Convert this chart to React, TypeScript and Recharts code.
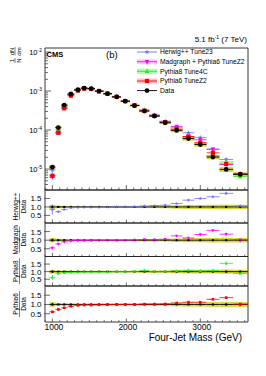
import React from 'react';
import { ComposedChart, Scatter, XAxis, YAxis, ErrorBar, ReferenceArea } from 'recharts';

// ---------- data ----------
const massCenters = [1000, 1080, 1160, 1250, 1345, 1430, 1525, 1630, 1745, 1870, 1985, 2110, 2245, 2380, 2525, 2680, 2840, 3000, 3170, 3350, 3540];
const massEdges = [960, 1040, 1120, 1205, 1295, 1385, 1475, 1575, 1690, 1805, 1925, 2050, 2175, 2310, 2450, 2600, 2760, 2920, 3085, 3260, 3445, 3640];

const dataValues = [1.12e-5, 1.16e-4, 4.37e-4, 8.4e-4, 1.08e-3, 1.19e-3, 1.16e-3, 1.0e-3, 8.6e-4, 7.1e-4, 5.5e-4, 4.25e-4, 3.07e-4, 2.28e-4, 1.54e-4, 9.8e-5, 6.05e-5, 4.25e-5, 2.03e-5, 9.8e-6, 7.3e-6];
const dataStatRel = [0.08, 0.03, 0.01, 0.01, 0.01, 0.01, 0.01, 0.01, 0.01, 0.01, 0.01, 0.01, 0.01, 0.01, 0.02, 0.02, 0.03, 0.03, 0.04, 0.06, 0.07];
const dataSysRel = [0.12, 0.08, 0.07, 0.06, 0.06, 0.06, 0.06, 0.06, 0.06, 0.06, 0.06, 0.06, 0.07, 0.07, 0.08, 0.1, 0.12, 0.12, 0.13, 0.14, 0.13];

const herwigValues = [9.5e-6, 8.4e-5, 3.7e-4, 8.0e-4, 1.05e-3, 1.17e-3, 1.14e-3, 9.8e-4, 8.5e-4, 7.1e-4, 5.5e-4, 4.3e-4, 3.2e-4, 2.46e-4, 1.69e-4, 1.18e-4, 8.5e-5, 6.4e-5, 3.25e-5, 1.76e-5, 7.7e-6];
const madgraphValues = [6.2e-6, 9.0e-5, 3.9e-4, 8.1e-4, 1.06e-3, 1.17e-3, 1.15e-3, 1.0e-3, 8.6e-4, 7.1e-4, 5.5e-4, 4.3e-4, 3.2e-4, 2.35e-4, 1.62e-4, 1.23e-4, 6.8e-5, 5.65e-5, 3.2e-5, 1.32e-5, 7.5e-6];
const pythia8Values = [6.9e-6, 1.02e-4, 4.0e-4, 8.0e-4, 1.04e-3, 1.15e-3, 1.14e-3, 9.7e-4, 8.4e-4, 7.1e-4, 5.5e-4, 4.3e-4, 3.3e-4, 2.28e-4, 1.57e-4, 1.03e-4, 6.5e-5, 4.45e-5, 2.2e-5, 1.52e-5, 6.4e-6];
const pythia6Values = [6.7e-6, 8.5e-5, 3.6e-4, 7.6e-4, 1.03e-3, 1.15e-3, 1.13e-3, 9.8e-4, 8.5e-4, 7.1e-4, 5.5e-4, 4.25e-4, 3.1e-4, 2.33e-4, 1.59e-4, 1.06e-4, 6.8e-5, 4.75e-5, 2.6e-5, 1.34e-5, 7.4e-6];

const herwigRatio = [0.85, 0.72, 0.85, 0.95, 0.97, 0.98, 0.98, 0.98, 0.99, 1.0, 1.0, 1.02, 1.05, 1.08, 1.1, 1.2, 1.4, 1.5, 1.6, 1.8, 1.05];
const madgraphRatio = [0.55, 0.78, 0.9, 0.96, 0.98, 0.98, 0.99, 1.0, 1.0, 1.0, 1.0, 1.02, 1.04, 1.03, 1.05, 1.25, 1.13, 1.33, 1.57, 1.35, 1.03];
const pythia8Ratio = [0.62, 0.88, 0.92, 0.95, 0.96, 0.97, 0.98, 0.97, 0.98, 1.0, 1.0, 1.02, 1.08, 1.0, 1.02, 1.05, 1.08, 1.05, 1.08, 1.55, 0.87];
const pythia6Ratio = [0.6, 0.73, 0.82, 0.9, 0.95, 0.97, 0.97, 0.98, 0.99, 1.0, 1.0, 1.0, 1.02, 1.02, 1.03, 1.08, 1.12, 1.12, 1.28, 1.37, 1.02];

const herwigErr = [0.3, 0.06, 0.03, 0.02, 0.02, 0.02, 0.02, 0.02, 0.02, 0.02, 0.02, 0.02, 0.03, 0.03, 0.03, 0.04, 0.05, 0.06, 0.07, 0.09, 0.08];
const madgraphErr = [0.08, 0.05, 0.03, 0.02, 0.02, 0.02, 0.02, 0.02, 0.02, 0.02, 0.02, 0.02, 0.03, 0.03, 0.03, 0.04, 0.04, 0.05, 0.07, 0.09, 0.06];
const pythia8Err = [0.15, 0.04, 0.02, 0.02, 0.02, 0.02, 0.02, 0.02, 0.02, 0.02, 0.02, 0.02, 0.03, 0.03, 0.03, 0.03, 0.04, 0.05, 0.05, 0.1, 0.06];
const pythia6Err = [0.06, 0.04, 0.02, 0.02, 0.02, 0.02, 0.02, 0.02, 0.02, 0.02, 0.02, 0.02, 0.03, 0.03, 0.03, 0.03, 0.04, 0.04, 0.05, 0.05, 0.03];

const xMajorTicks = [1000, 2000, 3000];
const xMinorTicks = [900, 1100, 1200, 1300, 1400, 1500, 1600, 1700, 1800, 1900, 2100, 2200, 2300, 2400, 2500, 2600, 2700, 2800, 2900, 3100, 3200, 3300, 3400, 3500, 3600];
const yMainMajor = [1e-5, 1e-4, 1e-3, 1e-2];
const yMainMinor = [3e-6, 4e-6, 5e-6, 6e-6, 7e-6, 8e-6, 9e-6, 2e-5, 3e-5, 4e-5, 5e-5, 6e-5, 7e-5, 8e-5, 9e-5, 2e-4, 3e-4, 4e-4, 5e-4, 6e-4, 7e-4, 8e-4, 9e-4, 2e-3, 3e-3, 4e-3, 5e-3, 6e-3, 7e-3, 8e-3, 9e-3];
const yMainLabels = ['-5', '-4', '-3', '-2'];
const yRatioTicks = [0.5, 1.0, 1.5];
const yRatioLabels = ['0.5', '1.0', '1.5'];

const legendNames = ['Herwig++ Tune23', 'Madgraph + Pythia6 TuneZ2', 'Pythia8 Tune4C', 'Pythia6 TuneZ2', 'Data'];
const ratioNames = ['Herwig++', 'Madgraph', 'Pythia8', 'Pythia6'];

// ---------- layout / style ----------
const W = 266;
const H = 376;
const PLOT_LEFT = 45;
const PLOT_RIGHT = 248;
const MAIN = { top: 48, bottom: 190 };
const RATIO_PANELS = [
  { top: 190, bottom: 223 },
  { top: 223, bottom: 256.5 },
  { top: 256.5, bottom: 286 },
  { top: 286, bottom: 322 },
];
const X_DOMAIN = [900, 3645];
const Y_MAIN_DOMAIN = [2.9e-6, 1.27e-2];
const Y_RATIO_DOMAIN = [0.05, 2.0];
const FONT = 'Liberation Sans, Arial, Helvetica, sans-serif';
const X_AXIS_H = 1;

const COL_HERWIG = '#6f6fff';
const COL_MADGRAPH = '#ff00ff';
const COL_PYTHIA8 = '#22ee22';
const COL_PYTHIA6 = '#ff0000';
const COL_DATA = '#000000';
const COL_BAND = '#d2d21e';
const COL_AXIS = '#444';

// ---------- markers ----------
const circleShape = (r: number, fill: string) => (p: any) =>
  p.cx == null ? <g /> : <circle cx={p.cx} cy={p.cy} r={r} fill={fill} />;
const squareShape = (s: number, fill: string) => (p: any) =>
  p.cx == null ? <g /> : <rect x={p.cx - s / 2} y={p.cy - s / 2} width={s} height={s} fill={fill} />;
const triUpShape = (s: number, fill: string) => (p: any) =>
  p.cx == null ? <g /> : (
    <polygon points={`${p.cx},${p.cy - s * 0.6} ${p.cx - s / 2},${p.cy + s * 0.4} ${p.cx + s / 2},${p.cy + s * 0.4}`} fill={fill} />
  );
const triDownShape = (s: number, fill: string) => (p: any) =>
  p.cx == null ? <g /> : (
    <polygon points={`${p.cx},${p.cy + s * 0.6} ${p.cx - s / 2},${p.cy - s * 0.4} ${p.cx + s / 2},${p.cy - s * 0.4}`} fill={fill} />
  );
const starPoints = (cx: number, cy: number, r: number) => {
  const pts: string[] = [];
  for (let k = 0; k < 10; k++) {
    const a = -Math.PI / 2 + (k * Math.PI) / 5;
    const rr = k % 2 === 0 ? r : r * 0.42;
    pts.push(`${cx + rr * Math.cos(a)},${cy + rr * Math.sin(a)}`);
  }
  return pts.join(' ');
};
const starShape = (r: number, fill: string) => (p: any) =>
  p.cx == null ? <g /> : <polygon points={starPoints(p.cx, p.cy, r)} fill={fill} />;

// ---------- builders ----------
const xErr = (i: number) => [massCenters[i] - massEdges[i], massEdges[i + 1] - massCenters[i]];

const mainPoints = (vals: number[], rel: number[]) =>
  massCenters.map((x, i) => ({ x, y: vals[i], ex: xErr(i), ey: [vals[i] * rel[i], vals[i] * rel[i]] }));
const ratioPoints = (vals: number[], err: number[]) =>
  massCenters.map((x, i) => ({ x, y: vals[i], ex: xErr(i), ey: [err[i], err[i]] }));
const dataRatioPoints = massCenters.map((x, i) => ({ x, y: 1, ex: xErr(i), ey: [dataStatRel[i], dataStatRel[i]] }));

// ---------- ticks ----------
const makeXTick = (bottom: number, showLabel: boolean, majorLen: number, minorLen: number) => (props: any) => {
  const { x, payload } = props;
  const v = payload.value;
  const isMajor = xMajorTicks.includes(v);
  const len = isMajor ? majorLen : minorLen;
  return (
    <g>
      <line x1={x} x2={x} y1={bottom} y2={bottom - len} stroke={COL_AXIS} strokeWidth={0.8} />
      {showLabel && isMajor ? (
        <text x={x + 1.5} y={bottom + 7.5} textAnchor="middle" fontSize={8.5} fontFamily={FONT} fill="#000">
          {v}
        </text>
      ) : null}
    </g>
  );
};

const MainYTick = (props: any) => {
  const { y, payload } = props;
  const v = payload.value;
  const idx = yMainMajor.indexOf(v);
  const isMajor = idx >= 0;
  return (
    <g>
      <line x1={PLOT_LEFT} x2={PLOT_LEFT + (isMajor ? 6 : 3)} y1={y} y2={y} stroke={COL_AXIS} strokeWidth={0.8} />
      {isMajor ? (
        <text x={PLOT_LEFT - 3} y={y + 3} textAnchor="end" fontSize={7.5} fontFamily={FONT} fill="#000">
          10
          <tspan dy={-3.5} fontSize={5}>
            {yMainLabels[idx]}
          </tspan>
        </text>
      ) : null}
    </g>
  );
};

const RatioYTick = (props: any) => {
  const { y, payload } = props;
  const idx = yRatioTicks.indexOf(payload.value);
  return (
    <g>
      <line x1={PLOT_LEFT - 1} x2={PLOT_LEFT + 5} y1={y} y2={y} stroke={COL_AXIS} strokeWidth={0.8} />
      <text x={PLOT_LEFT - 3.5} y={y + 3} textAnchor="end" fontSize={8} fontFamily={FONT} fill="#000">
        {yRatioLabels[idx]}
      </text>
    </g>
  );
};

// ---------- series config ----------
const mainSeries = [
  { vals: herwigValues, err: herwigErr, color: COL_HERWIG, shape: starShape(2.6, COL_HERWIG) },
  { vals: madgraphValues, err: madgraphErr, color: COL_MADGRAPH, shape: triDownShape(4.5, COL_MADGRAPH) },
  { vals: pythia8Values, err: pythia8Err, color: COL_PYTHIA8, shape: triUpShape(4.5, COL_PYTHIA8) },
  { vals: pythia6Values, err: pythia6Err, color: COL_PYTHIA6, shape: squareShape(4.2, COL_PYTHIA6) },
];
const ratioSeries = [
  { vals: herwigRatio, err: herwigErr, color: COL_HERWIG, shape: starShape(1.8, COL_HERWIG) },
  { vals: madgraphRatio, err: madgraphErr, color: COL_MADGRAPH, shape: triDownShape(3, COL_MADGRAPH) },
  { vals: pythia8Ratio, err: pythia8Err, color: COL_PYTHIA8, shape: triUpShape(3, COL_PYTHIA8) },
  { vals: pythia6Ratio, err: pythia6Err, color: COL_PYTHIA6, shape: squareShape(2.6, COL_PYTHIA6) },
];

const chartMargin = (top: number, bottom: number) => ({ top, bottom: H - bottom - X_AXIS_H, left: 0, right: W - PLOT_RIGHT });

const xAxisFor = (bottom: number, showLabel: boolean, majorLen: number, minorLen: number) => (
  <XAxis
    dataKey="x"
    type="number"
    domain={X_DOMAIN}
    allowDataOverflow
    ticks={[...xMinorTicks, ...xMajorTicks]}
    interval={0}
    height={X_AXIS_H}
    axisLine={false}
    tickLine={false}
    tick={makeXTick(bottom, showLabel, majorLen, minorLen)}
  />
);

function MainPanel() {
  const dataPts = mainPoints(dataValues, dataStatRel);
  return (
    <div style={{ position: 'absolute', left: 0, top: 0 }}>
      <ComposedChart width={W} height={H} margin={chartMargin(MAIN.top, MAIN.bottom)}>
        {xAxisFor(MAIN.bottom, false, 5, 2.5)}
        <YAxis
          type="number"
          scale="log"
          domain={Y_MAIN_DOMAIN}
          allowDataOverflow
          ticks={[...yMainMinor, ...yMainMajor]}
          interval={0}
          width={PLOT_LEFT}
          axisLine={false}
          tickLine={false}
          tick={MainYTick}
        />
        {massCenters.map((x, i) => (
          <ReferenceArea
            key={'sys' + i}
            x1={massEdges[i]}
            x2={massEdges[i + 1]}
            y1={dataValues[i] * (1 - dataSysRel[i])}
            y2={dataValues[i] * (1 + dataSysRel[i])}
            fill={COL_BAND}
            fillOpacity={0.9}
            stroke="none"
            ifOverflow="hidden"
          />
        ))}
        {mainSeries.map((s, k) => (
          <Scatter key={'m' + k} data={mainPoints(s.vals, s.err)} dataKey="y" isAnimationActive={false} shape={s.shape}>
            <ErrorBar dataKey="ex" direction="x" width={0} stroke={s.color} strokeWidth={0.8} />
            <ErrorBar dataKey="ey" direction="y" width={0} stroke={s.color} strokeWidth={0.8} />
          </Scatter>
        ))}
        <Scatter data={dataPts} dataKey="y" isAnimationActive={false} shape={circleShape(2.4, COL_DATA)}>
          <ErrorBar dataKey="ex" direction="x" width={0} stroke={COL_DATA} strokeWidth={0.9} />
          <ErrorBar dataKey="ey" direction="y" width={0} stroke={COL_DATA} strokeWidth={0.9} />
        </Scatter>
        <ReferenceArea
          x1={X_DOMAIN[0]}
          x2={X_DOMAIN[1]}
          y1={Y_MAIN_DOMAIN[0]}
          y2={Y_MAIN_DOMAIN[1]}
          fill="none"
          fillOpacity={0}
          stroke="#222"
          strokeWidth={0.9}
          ifOverflow="visible"
        />
      </ComposedChart>
    </div>
  );
}

function RatioPanel({ idx }: { idx: number }) {
  const p = RATIO_PANELS[idx];
  const s = ratioSeries[idx];
  const isLast = idx === RATIO_PANELS.length - 1;
  return (
    <div style={{ position: 'absolute', left: 0, top: 0 }}>
      <ComposedChart width={W} height={H} margin={chartMargin(p.top, p.bottom)}>
        {xAxisFor(p.bottom, isLast, 3.5, 1.8)}
        <YAxis
          type="number"
          domain={Y_RATIO_DOMAIN}
          allowDataOverflow
          ticks={yRatioTicks}
          interval={0}
          width={PLOT_LEFT}
          axisLine={false}
          tickLine={false}
          tick={RatioYTick}
        />
        {massCenters.map((x, i) => (
          <ReferenceArea
            key={'rs' + i}
            x1={massEdges[i]}
            x2={massEdges[i + 1]}
            y1={1 - dataSysRel[i]}
            y2={1 + dataSysRel[i]}
            fill={COL_BAND}
            fillOpacity={0.9}
            stroke="none"
            ifOverflow="hidden"
          />
        ))}
        <Scatter data={dataRatioPoints} dataKey="y" isAnimationActive={false} shape={squareShape(2, COL_DATA)}>
          <ErrorBar dataKey="ex" direction="x" width={0} stroke={COL_DATA} strokeWidth={0.9} />
          <ErrorBar dataKey="ey" direction="y" width={0} stroke={COL_DATA} strokeWidth={0.9} />
        </Scatter>
        <Scatter data={ratioPoints(s.vals, s.err)} dataKey="y" isAnimationActive={false} shape={s.shape}>
          <ErrorBar dataKey="ex" direction="x" width={0} stroke={s.color} strokeWidth={0.8} />
          <ErrorBar dataKey="ey" direction="y" width={0} stroke={s.color} strokeWidth={0.8} />
        </Scatter>
        <ReferenceArea
          x1={X_DOMAIN[0]}
          x2={X_DOMAIN[1]}
          y1={Y_RATIO_DOMAIN[0]}
          y2={Y_RATIO_DOMAIN[1]}
          fill="none"
          fillOpacity={0}
          stroke="#222"
          strokeWidth={0.9}
          ifOverflow="visible"
        />
      </ComposedChart>
    </div>
  );
}

function LegendEntry({ i, y }: { i: number; y: number }) {
  const colors = [COL_HERWIG, COL_MADGRAPH, COL_PYTHIA8, COL_PYTHIA6, COL_DATA];
  const bands = ['none', '#ffc8ff', '#aaffaa', '#ffc0c0', 'none'];
  const mk = [
    starShape(2.6, COL_HERWIG),
    triDownShape(4.5, COL_MADGRAPH),
    triUpShape(4.5, COL_PYTHIA8),
    squareShape(4.2, COL_PYTHIA6),
    circleShape(2.4, COL_DATA),
  ][i];
  const x0 = 137;
  const x1 = 157;
  return (
    <g>
      {bands[i] !== 'none' ? <rect x={x0} y={y - 2.5} width={x1 - x0} height={5} fill={bands[i]} /> : null}
      <line x1={x0} x2={x1} y1={y} y2={y} stroke={colors[i]} strokeWidth={0.9} />
      {mk({ cx: (x0 + x1) / 2, cy: y })}
      <text x={160} y={y + 2.4} fontSize={6.7} fontFamily={FONT} fill="#000">
        {legendNames[i]}
      </text>
    </g>
  );
}

function Overlay() {
  const legendY = [52, 61.7, 71.3, 81, 90.6];
  return (
    <svg width={W} height={H} style={{ position: 'absolute', left: 0, top: 0, pointerEvents: 'none' }}>
      <text x={247} y={42} textAnchor="end" fontSize={8} fontFamily={FONT} fill="#000">
        5.1 fb
        <tspan dy={-3.5} fontSize={5}>-1</tspan>
        <tspan dy={3.5} fontSize={8}> (7 TeV)</tspan>
      </text>
      <text x={46.5} y={57} fontSize={7.5} fontWeight="bold" fontFamily={FONT} fill="#000">
        CMS
      </text>
      <text x={106} y={58} fontSize={9.5} fontFamily={FONT} fill="#000">
        (b)
      </text>
      {legendY.map((y, i) => (
        <LegendEntry key={i} i={i} y={y} />
      ))}
      <g transform="translate(15,63) rotate(-90)" fontFamily={FONT} fontSize={6} fill="#000">
        <text x={2.5} y={-1.3} textAnchor="middle">1</text>
        <line x1={0} x2={5} y1={0} y2={0} stroke="#000" strokeWidth={0.5} />
        <text x={2.5} y={5.5} textAnchor="middle">N</text>
        <text x={11.5} y={-1.3} textAnchor="middle">dN</text>
        <line x1={7.5} x2={16} y1={0} y2={0} stroke="#000" strokeWidth={0.5} />
        <text x={11.5} y={5.5} textAnchor="middle">dm</text>
      </g>
      {RATIO_PANELS.map((p, i) => {
        const cy = (p.top + p.bottom) / 2;
        return (
          <g key={i} transform={`translate(19.5,${cy}) rotate(-90)`} fontFamily={FONT} fontSize={6.5} fill="#000">
            <text x={0} y={-1.5} textAnchor="middle">{ratioNames[i]}</text>
            <line x1={-13} x2={13} y1={0} y2={0} stroke="#000" strokeWidth={0.5} />
            <text x={0} y={6} textAnchor="middle">Data</text>
          </g>
        );
      })}
      <text x={242} y={340.5} textAnchor="end" fontSize={10} fontFamily={FONT} fill="#000">
        Four-Jet Mass (GeV)
      </text>
    </svg>
  );
}

export default function App() {
  return (
    <div style={{ position: 'absolute', left: 0, top: 0, width: W, height: H, background: '#fff' }}>
      <MainPanel />
      {RATIO_PANELS.map((_, i) => (
        <RatioPanel key={i} idx={i} />
      ))}
      <Overlay />
    </div>
  );
}
